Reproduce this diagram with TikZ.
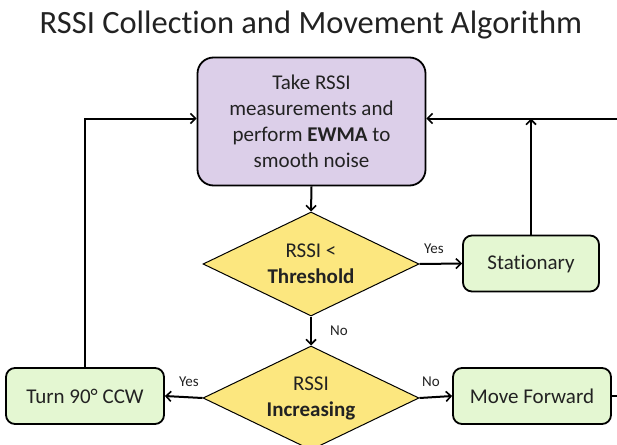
\documentclass[tikz,border=0pt]{standalone}
\usepackage{fontspec}
\setmainfont[Ligatures=NoCommon]{Carlito}
\usetikzlibrary{arrows.meta,shapes.geometric}
\definecolor{procfill}{HTML}{DCCFE9}
\definecolor{decfill}{HTML}{FCE77F}
\definecolor{actfill}{HTML}{E4F7D2}
\definecolor{ink}{HTML}{222222}
\tikzset{
  proc/.style={draw=black, line width=1.8pt, fill=procfill, rounded corners=16pt,
    minimum width=228pt, minimum height=128pt, inner sep=0pt, align=center,
    text=ink, font=\fontsize{21}{26}\selectfont},
  decision/.style={draw=black, line width=1pt, fill=decfill, shape=diamond,
    aspect=2.05, inner sep=0pt, minimum width=216pt, minimum height=104pt,
    align=center, text=ink, font=\fontsize{21}{26}\selectfont},
  action/.style={draw=black, line width=1.8pt, fill=actfill, rounded corners=9pt,
    inner sep=0pt, minimum height=56pt, text=ink, font=\fontsize{21}{26}\selectfont},
  conn/.style={line width=2pt, -{Straight Barb[length=5pt,width=10pt,line width=1.6pt]}},
  plain/.style={line width=2pt},
  lbl/.style={text=ink, font=\fontsize{15}{18}\selectfont, inner sep=0pt},
}
\begin{document}
\begin{tikzpicture}[x=1pt, y=-1pt]
\useasboundingbox (0,0) rectangle (617,444);

% title
\node[anchor=base, text=ink, font=\fontsize{32.5}{38}\selectfont, inner sep=0pt]
  (title) at (311,34) {RSSI Collection and Movement Algorithm};

% process and decision nodes
\node[proc] (meas) at (311.5,121.5)
  {Take RSSI\\measurements and\\perform \textbf{EWMA} to\\smooth noise};
\node[decision] (thr) at (311,264) {RSSI <\\\textbf{Threshold}};
\node[action, minimum width=136pt] (stat) at (531,263.5) {Stationary};
\node[decision] (inc) at (311,398) {RSSI\\\textbf{Increasing}};
\node[action, minimum width=158pt] (turn) at (85,396) {Turn 90° CCW};
\node[action, minimum width=158pt] (fwd) at (532,396) {Move Forward};

% loop-back rails
\coordinate (rail) at (311,118.5);
\coordinate (rin) at (617,118.5);
\coordinate (rout) at (617,396);

% connectors
\draw[conn] (meas.south) -- (thr.north);
\draw[conn] (thr.east) -- (stat.west);
\draw[conn] (stat.north) -- (stat.north |- rail);
\draw[conn] (rin) -- (rin -| meas.east);
\draw[conn] (thr.south) -- (inc.north);
\draw[conn] (inc.west) -- (turn.east);
\draw[conn] (inc.east) -- (fwd.west);
\draw[plain] (fwd.east) -- (rout);
\draw[conn] (turn.north) |- (rail -| meas.west);

% branch labels
\node[lbl] (y1) at (434,249) {Yes};
\node[lbl] (n1) at (339,331) {No};
\node[lbl] (y2) at (189,382) {Yes};
\node[lbl] (n2) at (431,382) {No};
\end{tikzpicture}
\end{document}
